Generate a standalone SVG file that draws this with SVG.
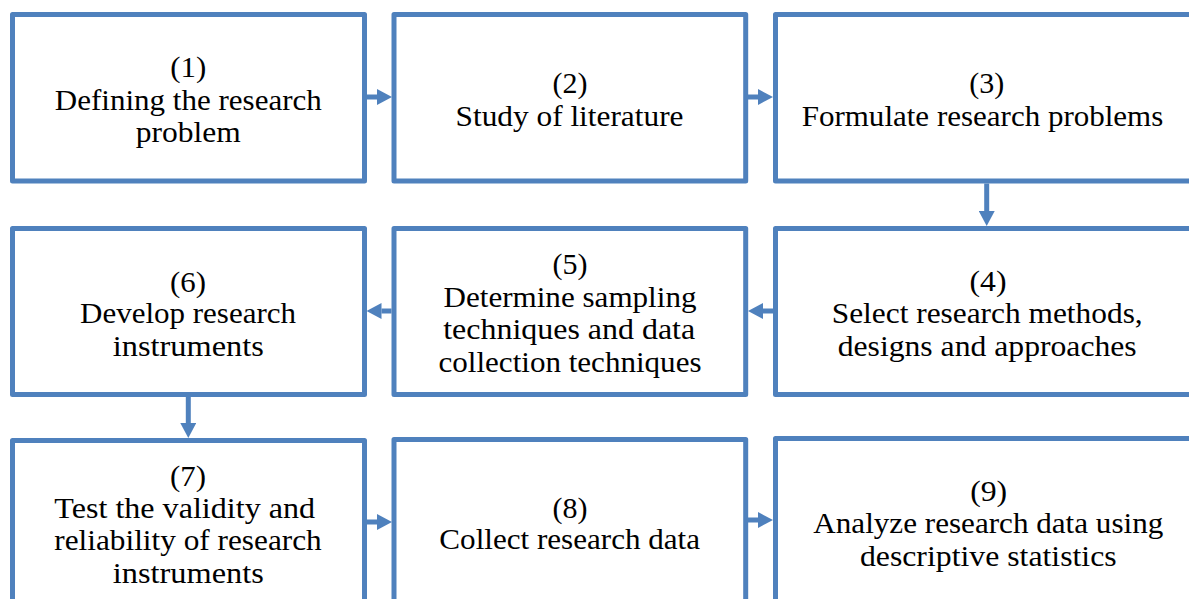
<svg xmlns="http://www.w3.org/2000/svg" width="1189" height="599" viewBox="0 0 1189 599">
<style>
.box{fill:#FFFFFF;stroke:#4F81BD;stroke-width:5;stroke-linejoin:round}
.lbl{font-family:"Liberation Serif","Times New Roman",serif;font-size:29.2px;fill:#000000;text-anchor:middle}
.conn{stroke:#4F81BD;stroke-width:5;fill:none}
</style>
<defs>
<marker id="ah" markerUnits="userSpaceOnUse" markerWidth="15" markerHeight="16" refX="0" refY="8" orient="auto" viewBox="0 0 15 16">
<path d="M0,0 L15,8 L0,16 Z" fill="#4F81BD"/>
</marker>
</defs>
<rect width="1189" height="599" fill="#FFFFFF"/>
<g id="node1">
<rect class="box" x="12.5" y="14.5" width="352" height="166.5"/>
<text class="lbl" x="188.3" y="77" textLength="36" lengthAdjust="spacingAndGlyphs">(1)</text>
<text class="lbl" x="188.3" y="109.5" textLength="267" lengthAdjust="spacingAndGlyphs">Defining the research</text>
<text class="lbl" x="188.3" y="142" textLength="105" lengthAdjust="spacingAndGlyphs">problem</text>
</g>
<g id="node2">
<rect class="box" x="394" y="14.5" width="351.7" height="166.5"/>
<text class="lbl" x="570" y="93" textLength="35" lengthAdjust="spacingAndGlyphs">(2)</text>
<text class="lbl" x="569.5" y="125.5" textLength="228" lengthAdjust="spacingAndGlyphs">Study of literature</text>
</g>
<g id="node3">
<rect class="box" x="775.5" y="14.5" width="430" height="166.5"/>
<text class="lbl" x="986.7" y="93" textLength="35" lengthAdjust="spacingAndGlyphs">(3)</text>
<text class="lbl" x="982.5" y="126" textLength="361.6" lengthAdjust="spacingAndGlyphs">Formulate research problems</text>
</g>
<g id="node4">
<rect class="box" x="775.5" y="228.5" width="430" height="166"/>
<text class="lbl" x="988" y="291" textLength="37" lengthAdjust="spacingAndGlyphs">(4)</text>
<text class="lbl" x="987.2" y="323" textLength="311" lengthAdjust="spacingAndGlyphs">Select research methods,</text>
<text class="lbl" x="987.2" y="355.5" textLength="299" lengthAdjust="spacingAndGlyphs">designs and approaches</text>
</g>
<g id="node5">
<rect class="box" x="394" y="228.5" width="351.7" height="166"/>
<text class="lbl" x="570" y="274" textLength="35" lengthAdjust="spacingAndGlyphs">(5)</text>
<text class="lbl" x="570" y="306.5" textLength="253" lengthAdjust="spacingAndGlyphs">Determine sampling</text>
<text class="lbl" x="569.2" y="339" textLength="252" lengthAdjust="spacingAndGlyphs">techniques and data</text>
<text class="lbl" x="570" y="371.5" textLength="263" lengthAdjust="spacingAndGlyphs">collection techniques</text>
</g>
<g id="node6">
<rect class="box" x="12.5" y="228.5" width="352" height="166"/>
<text class="lbl" x="188" y="291.5" textLength="36" lengthAdjust="spacingAndGlyphs">(6)</text>
<text class="lbl" x="188" y="323" textLength="216" lengthAdjust="spacingAndGlyphs">Develop research</text>
<text class="lbl" x="188.3" y="356" textLength="151" lengthAdjust="spacingAndGlyphs">instruments</text>
</g>
<g id="node7">
<rect class="box" x="12.5" y="440.5" width="352" height="180"/>
<text class="lbl" x="188" y="485.5" textLength="36" lengthAdjust="spacingAndGlyphs">(7)</text>
<text class="lbl" x="184.7" y="517.5" textLength="260.7" lengthAdjust="spacingAndGlyphs">Test the validity and</text>
<text class="lbl" x="188" y="550" textLength="267.4" lengthAdjust="spacingAndGlyphs">reliability of research</text>
<text class="lbl" x="188.3" y="583" textLength="151" lengthAdjust="spacingAndGlyphs">instruments</text>
</g>
<g id="node8">
<rect class="box" x="394" y="439.5" width="351.7" height="180"/>
<text class="lbl" x="570" y="517.5" textLength="35" lengthAdjust="spacingAndGlyphs">(8)</text>
<text class="lbl" x="569.7" y="549" textLength="260.7" lengthAdjust="spacingAndGlyphs">Collect research data</text>
</g>
<g id="node9">
<rect class="box" x="775.5" y="438.5" width="430" height="180"/>
<text class="lbl" x="988.7" y="500.5" textLength="37" lengthAdjust="spacingAndGlyphs">(9)</text>
<text class="lbl" x="988.3" y="533" textLength="350" lengthAdjust="spacingAndGlyphs">Analyze research data using</text>
<text class="lbl" x="988.3" y="566" textLength="256.7" lengthAdjust="spacingAndGlyphs">descriptive statistics</text>
</g>
<g id="connectors">
<line class="conn" x1="367" y1="97" x2="377" y2="97" marker-end="url(#ah)"/>
<line class="conn" x1="748" y1="97" x2="758" y2="97" marker-end="url(#ah)"/>
<line class="conn" x1="986.7" y1="183.5" x2="986.7" y2="211" marker-end="url(#ah)"/>
<line class="conn" x1="773" y1="311" x2="763" y2="311" marker-end="url(#ah)"/>
<line class="conn" x1="391.5" y1="311" x2="381.5" y2="311" marker-end="url(#ah)"/>
<line class="conn" x1="188.3" y1="397" x2="188.3" y2="423" marker-end="url(#ah)"/>
<line class="conn" x1="367" y1="522" x2="377" y2="522" marker-end="url(#ah)"/>
<line class="conn" x1="748" y1="520" x2="758" y2="520" marker-end="url(#ah)"/>
</g>
</svg>
